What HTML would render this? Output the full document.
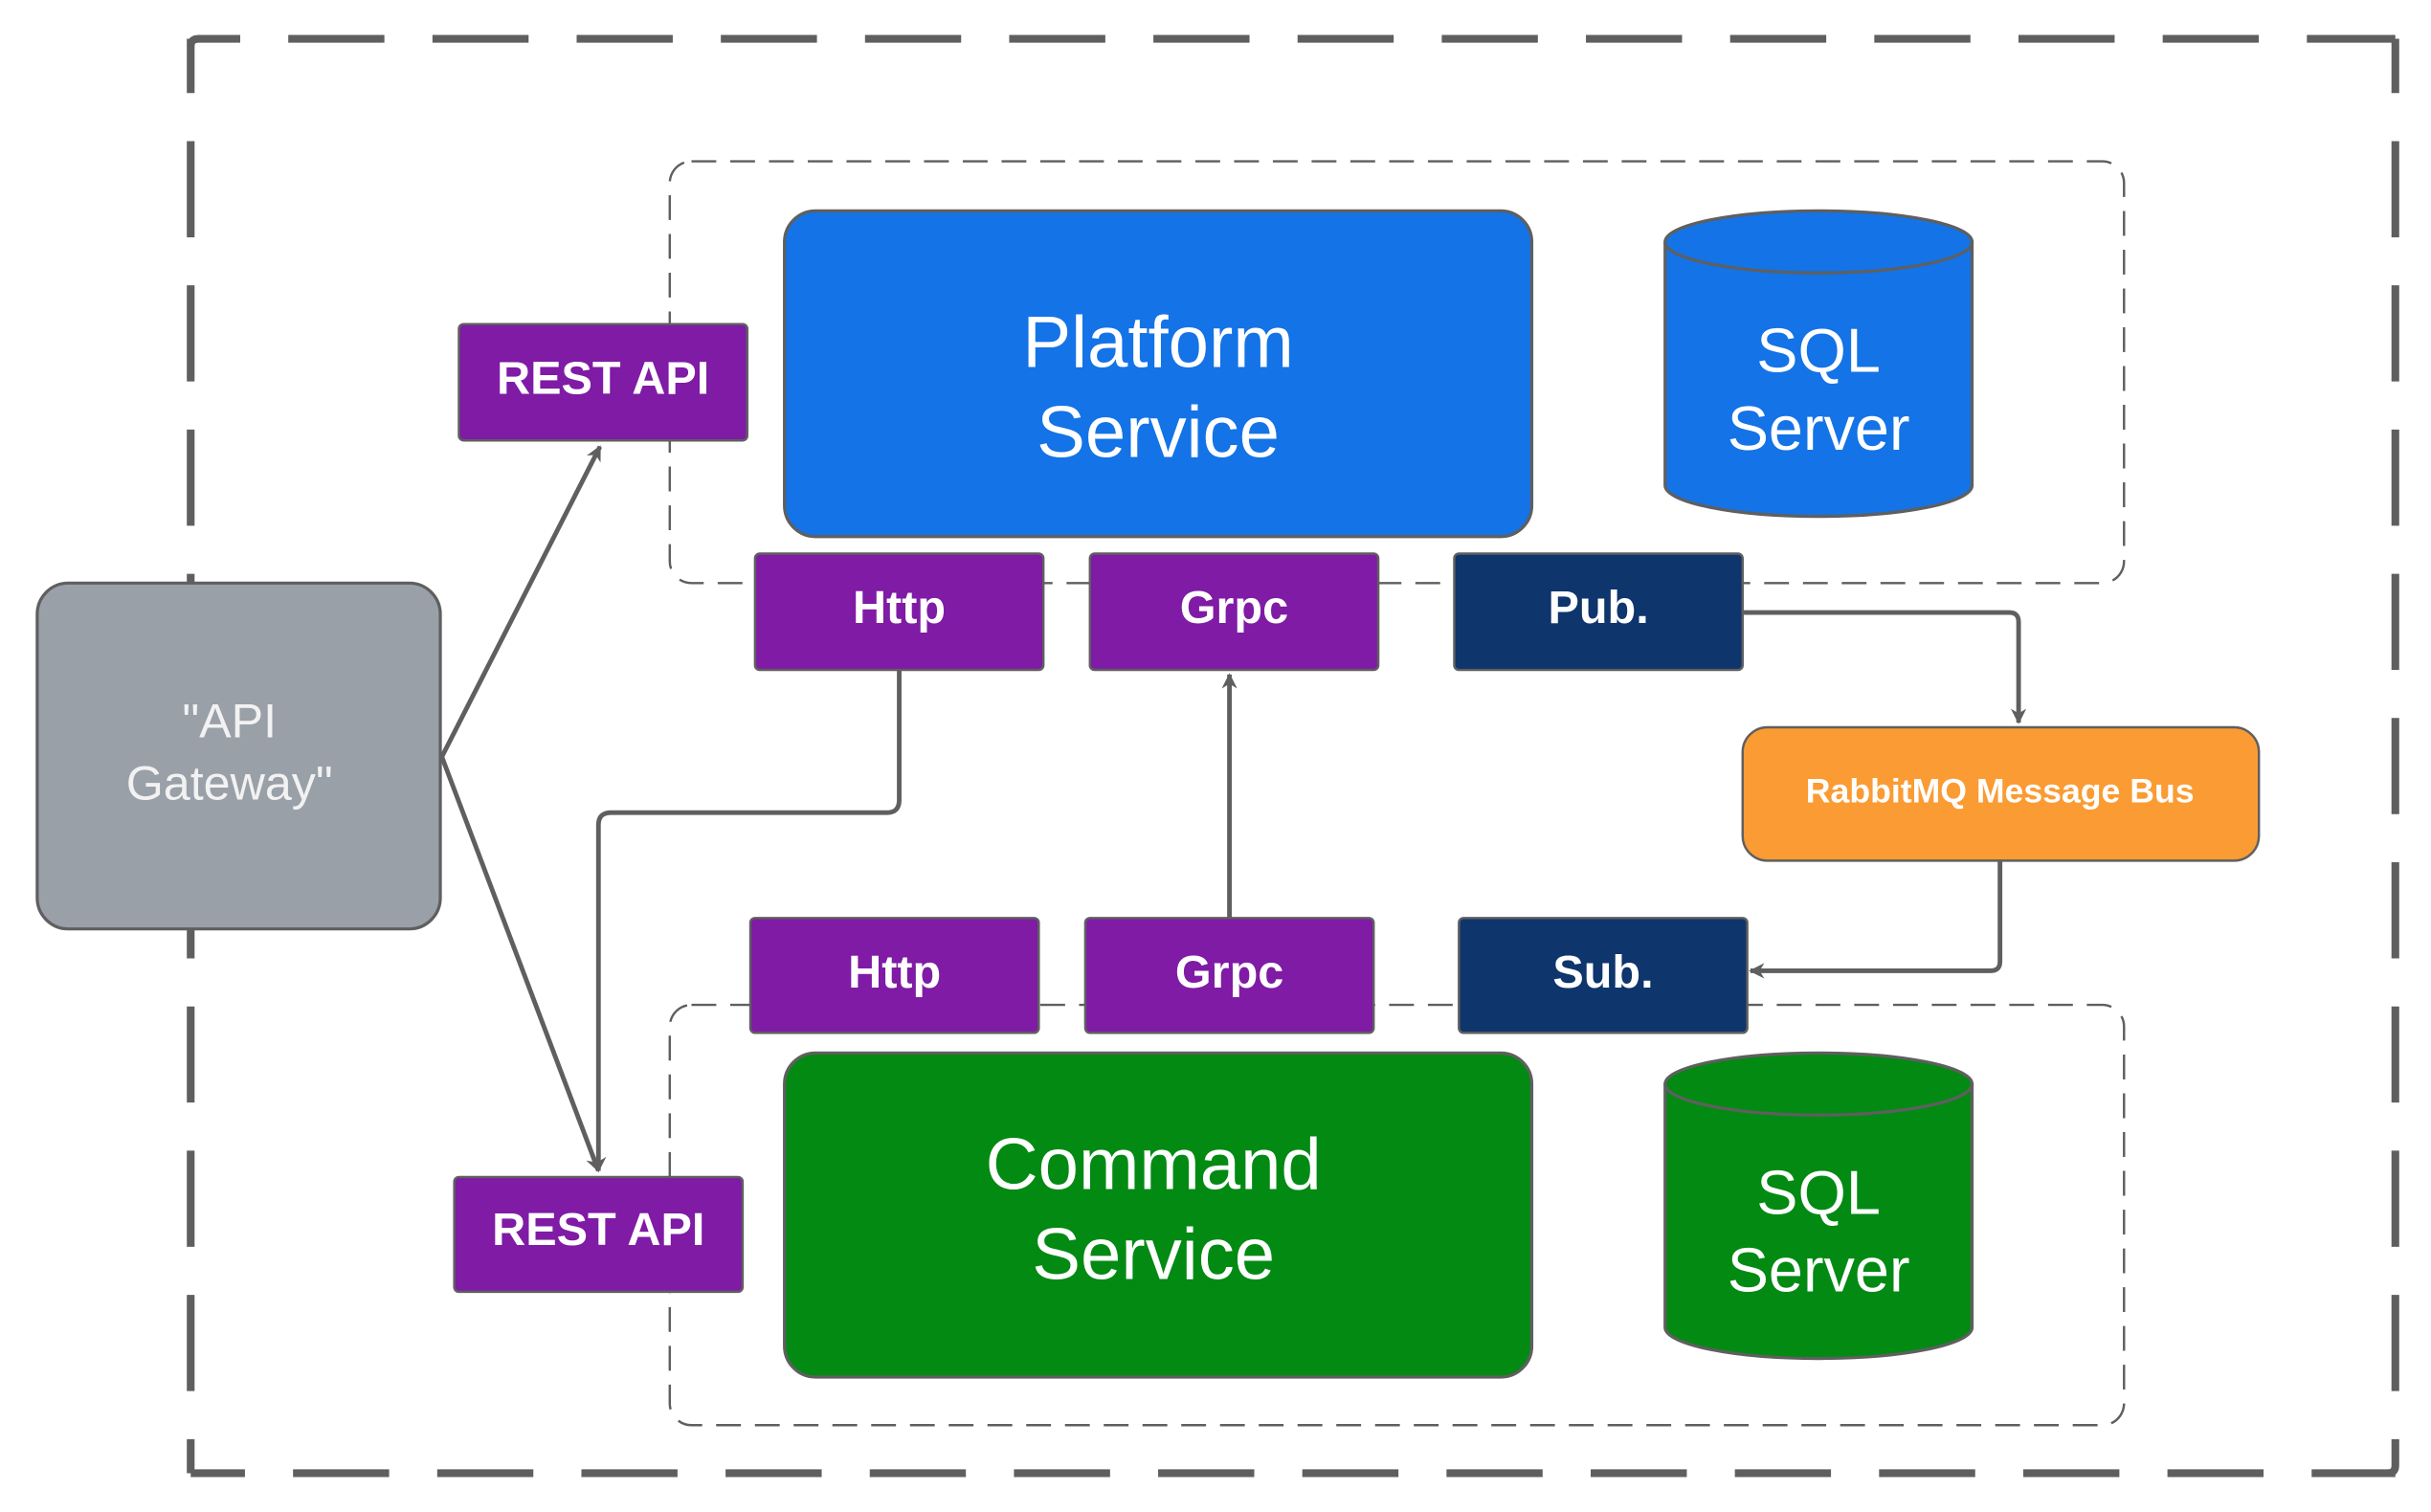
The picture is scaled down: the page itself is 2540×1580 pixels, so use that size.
<!DOCTYPE html>
<html><head><meta charset="utf-8"><style>
html,body{margin:0;padding:0;background:#fff;width:2540px;height:1580px;overflow:hidden}
svg{display:block}
text{font-family:"Liberation Sans",sans-serif;fill:#fff;text-anchor:middle;dominant-baseline:central}
.b{font-weight:bold}
</style></head><body>
<svg width="2540" height="1580" viewBox="0 0 1568 975" preserveAspectRatio="none" xmlns="http://www.w3.org/2000/svg">
<defs>
<marker id="a" markerWidth="10" markerHeight="10" refX="9" refY="5" orient="auto" markerUnits="userSpaceOnUse">
<path d="M0,0 L10,5 L0,10 L3,5 Z" fill="#5f5f5f"/></marker>
</defs>
<g fill="none" stroke="#5f5f5f" stroke-width="5" stroke-dasharray="62 31" stroke-dashoffset="27">
<path d="M123,30 Q123,25 128,25 L1545,25"/>
<path d="M123,25 L123,950"/>
<path d="M1545,25 L1545,945 Q1545,950 1540,950"/>
<path d="M123,950 L1545,950"/>
</g>
<rect x="432" y="104" width="938" height="272" rx="14" fill="none" stroke="#5f5f5f" stroke-width="1.5" stroke-dasharray="16 9"/>
<rect x="432" y="648" width="938" height="271" rx="14" fill="none" stroke="#5f5f5f" stroke-width="1.5" stroke-dasharray="16 9"/>
<g fill="none" stroke="#5f5f5f" stroke-width="3">
<path d="M285,488 L387,288" marker-end="url(#a)"/>
<path d="M285,488 L386,755" marker-end="url(#a)"/>
<path d="M580,432 L580,516 Q580,524 572,524 L394,524 Q386,524 386,532 L386,755" marker-end="url(#a)"/>
<path d="M793,592 L793,435" marker-end="url(#a)"/>
<path d="M1124,395 L1296,395 Q1302,395 1302,401 L1302,466" marker-end="url(#a)"/>
<path d="M1290,555 L1290,620 Q1290,626 1284,626 L1129,626" marker-end="url(#a)"/>
</g>
<rect x="24" y="376" width="260" height="223" rx="20" fill="#9aa0a8" stroke="#5f5f5f" stroke-width="2"/>
<text x="148" y="465" font-size="31" style="fill:#f2f2f2">"API</text>
<text x="148" y="505" font-size="31" style="fill:#f2f2f2">Gateway"</text>
<rect x="506" y="136" width="482" height="210" rx="20" fill="#1473e6" stroke="#5f5f5f" stroke-width="2"/>
<text x="747" y="221" font-size="47">Platform</text>
<text x="747" y="279" font-size="47">Service</text>
<rect x="506" y="679" width="482" height="209" rx="20" fill="#038a13" stroke="#5f5f5f" stroke-width="2"/>
<text x="744" y="751" font-size="47">Command</text>
<text x="744" y="809" font-size="47">Service</text>
<g stroke="#5f5f5f" stroke-width="2">
<path d="M1074,156 L1074,313 A99,20 0 0 0 1272,313 L1272,156" fill="#1473e6"/>
<ellipse cx="1173" cy="156" rx="99" ry="20" fill="#1473e6"/>
<path d="M1074,699 L1074,856 A99,20 0 0 0 1272,856 L1272,699" fill="#038a13"/>
<ellipse cx="1173" cy="699" rx="99" ry="20" fill="#038a13"/>
</g>
<text x="1173" y="226" font-size="40">SQL</text>
<text x="1173" y="276" font-size="40">Server</text>
<text x="1173" y="769" font-size="40">SQL</text>
<text x="1173" y="819" font-size="40">Server</text>
<g stroke="#5f5f5f" stroke-width="1.5">
<rect x="296" y="209" width="186" height="75" rx="3" fill="#7f1ba5"/>
<rect x="293" y="759" width="186" height="74" rx="3" fill="#7f1ba5"/>
<rect x="487" y="357" width="186" height="75" rx="3" fill="#7f1ba5"/>
<rect x="703" y="357" width="186" height="75" rx="3" fill="#7f1ba5"/>
<rect x="938" y="357" width="186" height="75" rx="3" fill="#0e356c"/>
<rect x="484" y="592" width="186" height="74" rx="3" fill="#7f1ba5"/>
<rect x="700" y="592" width="186" height="74" rx="3" fill="#7f1ba5"/>
<rect x="941" y="592" width="186" height="74" rx="3" fill="#0e356c"/>
<rect x="1124" y="469" width="333" height="86" rx="16" fill="#fb9b33"/>
</g>
<text class="b" x="389" y="244" font-size="30">REST API</text>
<text class="b" x="386" y="793" font-size="30">REST API</text>
<text class="b" x="580" y="392" font-size="30">Http</text>
<text class="b" x="796" y="392" font-size="30">Grpc</text>
<text class="b" x="1031" y="392" font-size="30">Pub.</text>
<text class="b" x="577" y="627" font-size="30">Http</text>
<text class="b" x="793" y="627" font-size="30">Grpc</text>
<text class="b" x="1034" y="627" font-size="30">Sub.</text>
<text class="b" x="1290" y="510" font-size="22">RabbitMQ Message Bus</text>
</svg>
</body></html>
